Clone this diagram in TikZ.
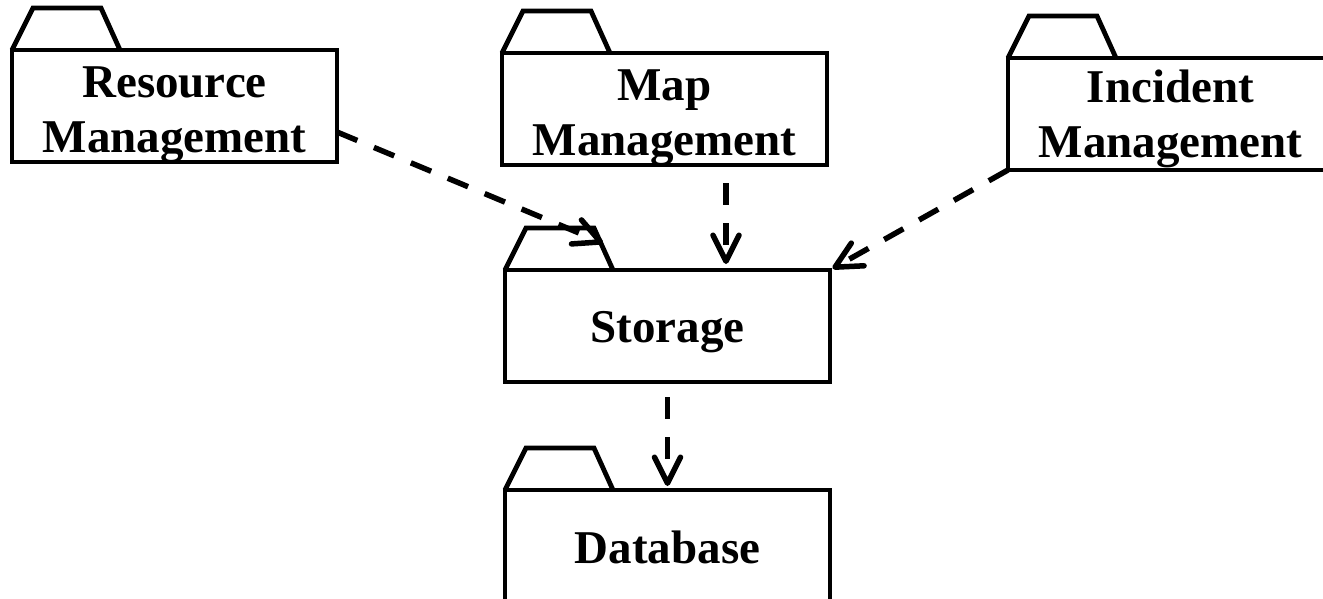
\documentclass[tikz,border=0pt]{standalone}
\usepackage{fontspec}
\setmainfont{Liberation Serif}
\usetikzlibrary{arrows.meta,calc}
\begin{document}
\begin{tikzpicture}[x=1pt,y=-1pt,
  pkgbody/.style={draw, line width=4.8pt, minimum width=325pt, minimum height=112pt, inner sep=0pt, outer sep=0pt, line join=miter},
  pkgtab/.style={draw, line width=4.8pt, line join=miter},
  pkglabel/.style={anchor=base, inner sep=0pt, outer sep=0pt, font=\fontsize{47}{55}\selectfont\bfseries},
  dep/.style={line width=5.5pt, dash pattern=on 22pt off 18pt,
    -{Straight Barb[length=26pt,width=26pt,line width=5.5pt,round]}}
]
\useasboundingbox (0,0) rectangle (1323,598);
\clip (0,0) rectangle (1323,598);

% package bodies
\node[pkgbody] (res) at (174.5,106) {};
\node[pkgbody] (map) at (664.5,109) {};
\node[pkgbody] (inc) at (1170.5,114) {};
\node[pkgbody] (sto) at (667.5,326) {};
\node[pkgbody] (db)  at (667.5,546) {};

% tabs
\foreach \p in {res,map,inc,sto,db}{
  \draw[pkgtab] (\p.north west) -- ++(21,-42) -- ++(68,0) -- ++(19,42);
}

% labels
\node[pkglabel] (res-t) at (174.5,152) {\begin{tabular}[b]{@{}c@{}}Resource\\Management\end{tabular}};
\node[pkglabel] (map-t) at (664.5,155) {\begin{tabular}[b]{@{}c@{}}Map\\Management\end{tabular}};
\node[pkglabel] (inc-t) at (1170.5,157) {\begin{tabular}[b]{@{}c@{}}Incident\\Management\end{tabular}};
\node[pkglabel] (sto-t) at (667.5,342) {Storage};
\node[pkglabel] (db-t)  at (667.5,563) {Database};

% dependencies
\draw[dep] ($(res.north east)+(0,82)$) -- ($(sto.north west)+(98,-27)$);
\draw[dep, shorten <=18pt, shorten >=6pt] ($(map.south west)+(224,0)$) -- ($(sto.north west)+(221,0)$);
\draw[dep, shorten >=3pt] (inc.south west) -- (sto.north east);
\draw[dep, shorten <=15pt, shorten >=4pt] (sto.south) -- (db.north);
\end{tikzpicture}
\end{document}
